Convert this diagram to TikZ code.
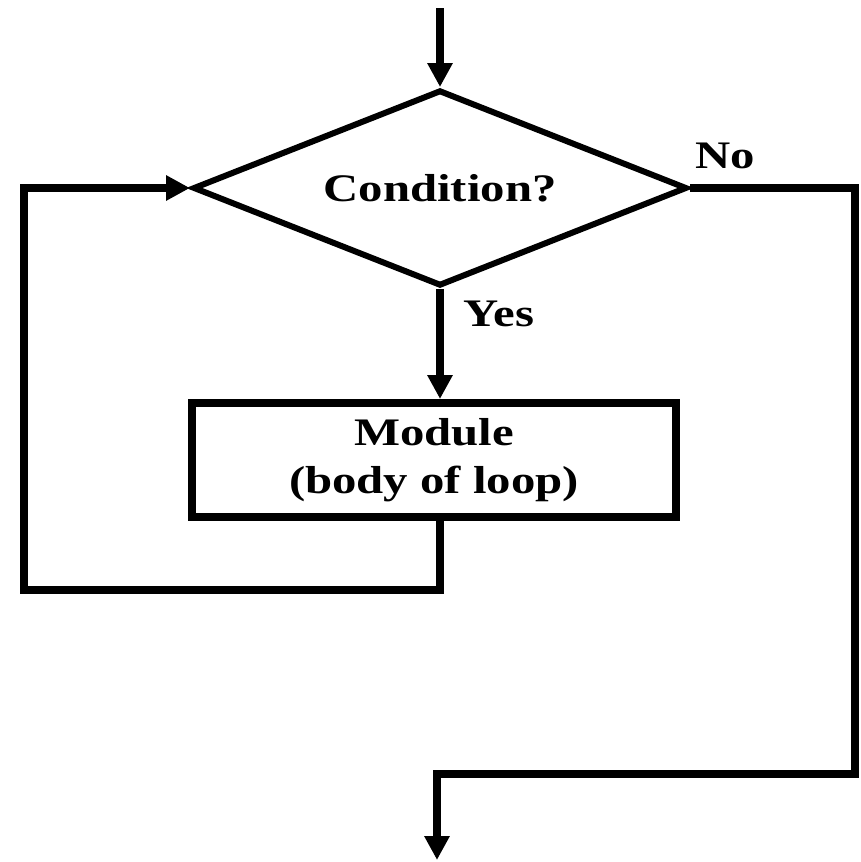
\documentclass[tikz,border=0pt]{standalone}
\usepackage{fontspec}
\setmainfont{Liberation Serif}[FakeStretch=1.25]
\usetikzlibrary{shapes.geometric,arrows.meta}
\begin{document}
\begin{tikzpicture}[x=1pt,y=-1pt,
  flow/.style={line width=8pt,line join=miter,-{Triangle[length=24pt,width=24pt]}},
  lbl/.style={font=\bfseries\fontsize{39}{47}\selectfont,inner sep=0pt},
  decision/.style={draw,line width=6pt,shape=diamond,shape aspect=2.5,inner sep=0pt,
     minimum width=494pt,minimum height=196pt,font=\bfseries\fontsize{39}{47}\selectfont},
  process/.style={draw,line width=8pt,rectangle,inner sep=0pt,minimum width=484pt,minimum height=114pt,
     align=center,font=\bfseries\fontsize{39}{48}\selectfont}]
\useasboundingbox (0,0) rectangle (861,862);
\node[decision] (cond) at (440,188) {Condition?};
\node[process] (mod) at (434,460) {Module\\(body of loop)};
\node[lbl] (no) at (725,156) {No};
\node[lbl] (yes) at (499,314) {Yes};
\coordinate (start) at (440,8);
\coordinate (bl) at (440,590);
\coordinate (blL) at (24,590);
\coordinate (tlL) at (24,188);
\coordinate (ne) at (855,188);
\coordinate (se) at (855,774);
\coordinate (sw) at (437,774);
\coordinate (out) at (437,860);
\draw[flow] (start) -- (cond.north);
\draw[flow] (cond.south) -- (cond.south |- mod.north);
\draw[flow] (cond.south |- mod.south) -- (bl) -- (blL) -- (tlL) -- (cond.west);
\draw[flow] (cond.east) -- (ne) -- (se) -- (sw) -- (out);
\end{tikzpicture}
\end{document}
